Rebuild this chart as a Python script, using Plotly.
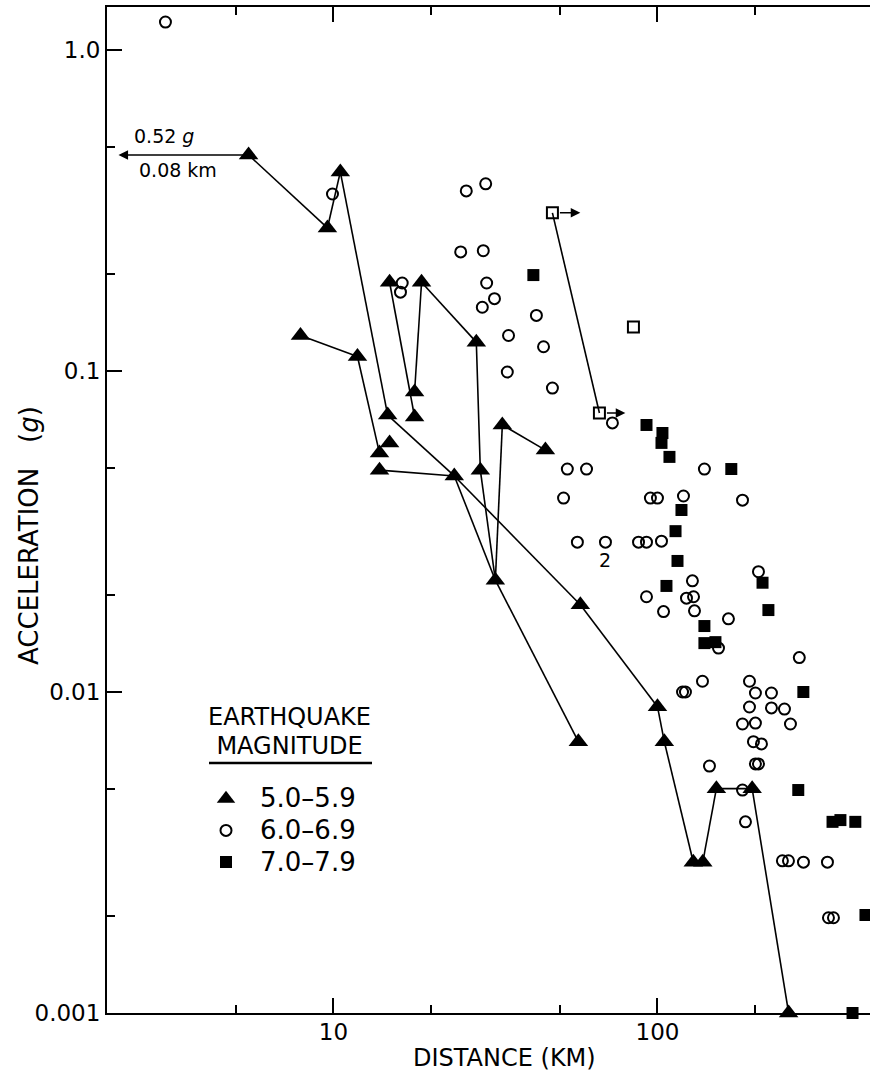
import numpy as np
import plotly.graph_objects as go

# ---------------- data (distance km, acceleration g) ----------------
# Magnitude 5.0-5.9 : filled triangles
tri_dist = [5.47, 9.58, 10.5, 7.91, 11.86, 14.9, 18.7, 14.7, 13.87, 14.9,
            13.87, 17.8, 17.8, 23.6, 27.6, 28.4, 31.6, 33.2, 45.1, 57.8,
            100, 105, 129, 138, 152, 196, 254, 57.0]
tri_acc = [0.471, 0.279, 0.417, 0.129, 0.111, 0.189, 0.189, 0.0729, 0.0555, 0.0597,
           0.0491, 0.086, 0.0719, 0.0471, 0.123, 0.0491, 0.0223, 0.0679, 0.0567, 0.0187,
           0.0090, 0.0070, 0.00295, 0.00295, 0.0050, 0.0050, 0.0010, 0.0070]
# records of the same event joined by lines (index pairs into the triangle lists)
tri_links = [(0, 1), (1, 2), (2, 7), (3, 4), (4, 8), (5, 12), (6, 11), (6, 14),
             (14, 15), (15, 16), (17, 16), (17, 18), (7, 13), (10, 13), (13, 16),
             (13, 19), (19, 20), (20, 21), (21, 22), (23, 24), (24, 25), (25, 26),
             (16, 27)]

# Magnitude 6.0-6.9 : open circles
circ_dist = [3.03, 9.93, 16.3, 16.1, 25.7, 29.5, 24.7, 29.0, 29.7, 31.4,
             28.8, 42.3, 34.7, 44.5, 34.4, 47.4, 72.6, 52.7, 60.4, 139.6,
             51.3, 95.1, 100, 120.3, 183, 56.6, 69.1, 87.4, 92.5, 102.9,
             205, 128.2, 92.5, 122.9, 129.2, 104.4, 130.1, 165.6, 154.3, 274,
             137.7, 119.5, 122, 192.3, 200.6, 224.8, 192.3, 224.8, 246.6, 183,
             200.6, 257.3, 197.8, 209.4, 200.6, 205, 144.7, 183, 186.9, 243,
             253.7, 282.2, 334.7, 337.1, 349.3]
circ_acc = [1.222, 0.356, 0.188, 0.176, 0.364, 0.383, 0.235, 0.237, 0.188, 0.168,
            0.158, 0.149, 0.129, 0.119, 0.0993, 0.0885, 0.0689, 0.0495, 0.0495, 0.0495,
            0.0402, 0.0402, 0.0402, 0.0408, 0.0396, 0.0293, 0.0293, 0.0293, 0.0293, 0.0295,
            0.0237, 0.0222, 0.0198, 0.0196, 0.0198, 0.0178, 0.0179, 0.0169, 0.0137, 0.0128,
            0.0108, 0.0100, 0.0100, 0.0108, 0.00993, 0.00993, 0.00898, 0.00892, 0.00885, 0.00795,
            0.0080, 0.00795, 0.0070, 0.00689, 0.00597, 0.00597, 0.00588, 0.00495, 0.00394, 0.00298,
            0.00298, 0.00295, 0.00295, 0.00198, 0.00198]

# Magnitude 7.0-7.9 : filled squares
sq_dist = [41.4, 92.5, 103.6, 102.9, 108.9, 169, 118.6, 113.7, 115.3, 106.6,
           211, 220, 139.6, 139.6, 151, 282, 272, 347, 367, 408, 438.5, 400]
sq_acc = [0.199, 0.0679, 0.0641, 0.0597, 0.054, 0.0495, 0.0369, 0.0317, 0.0256, 0.0214,
          0.0219, 0.018, 0.01605, 0.0142, 0.0143, 0.01, 0.00495, 0.00394, 0.00399, 0.00394,
          0.00202, 0.001]

# open squares (distance is a lower bound, arrows point right)
osq_dist = [47.4, 66.2, 84.3]
osq_acc = [0.311, 0.074, 0.137]
osq_arrow_to = [57.8, 79.6]

# off-scale record
offscale_acc = 0.52
offscale_dist = 0.08

x_ticks = [10, 100]
x_minor = [5, 20, 50, 200]
y_ticks = [0.001, 0.01, 0.1, 1.0]
y_ticklabels = ["0.001", "0.01", "0.1", "1.0"]
y_minor = [0.002, 0.005, 0.02, 0.05, 0.2, 0.5]

FONT = "DejaVu Sans"
L = np.log10

# plot-area geometry (pixels)
PL, PR, PT, PB = 107, 870, 7, 1013
W, H = 870, 1075


def px(xp):
    return (xp - PL) / (PR - PL)


def py(yp):
    return (PB - yp) / (PB - PT)


fig = go.Figure()

lx, ly = [], []
for a, b in tri_links:
    lx += [tri_dist[a], tri_dist[b], None]
    ly += [tri_acc[a], tri_acc[b], None]
fig.add_trace(go.Scatter(x=lx, y=ly, mode="lines", line=dict(color="black", width=1.6),
                         showlegend=False, hoverinfo="skip"))
fig.add_trace(go.Scatter(x=osq_dist[:2], y=osq_acc[:2], mode="lines",
                         line=dict(color="black", width=1.6), showlegend=False, hoverinfo="skip"))

big = "<span style='font-size:26px'>%s</span>"
head = "<span style='font-size:24px'>%s</span>"
fig.add_trace(go.Scatter(x=tri_dist, y=tri_acc, mode="markers", name=big % "5.0\u20135.9",
                         marker=dict(symbol="triangle-up", size=17, color="black"),
                         cliponaxis=False))
fig.add_trace(go.Scatter(x=circ_dist, y=circ_acc, mode="markers", name=big % "6.0\u20136.9",
                         marker=dict(symbol="circle-open", size=11, color="black",
                                     line=dict(width=2, color="black")),
                         cliponaxis=False))
fig.add_trace(go.Scatter(x=sq_dist, y=sq_acc, mode="markers", name=big % "7.0\u20137.9",
                         marker=dict(symbol="square", size=12, color="black"),
                         cliponaxis=False))
fig.add_trace(go.Scatter(x=osq_dist, y=osq_acc, mode="markers", showlegend=False,
                         marker=dict(symbol="square-open", size=11, color="black",
                                     line=dict(width=2, color="black")),
                         cliponaxis=False))

annotations = []
# arrows to the right from open squares
for i, xe in enumerate(osq_arrow_to):
    annotations.append(dict(x=L(xe), y=L(osq_acc[i]), ax=L(osq_dist[i]), ay=L(osq_acc[i]),
                            xref="x", yref="y", axref="x", ayref="y", text="",
                            showarrow=True, arrowhead=2, arrowsize=1.2, arrowwidth=1.6,
                            startstandoff=6, standoff=0, arrowcolor="black"))
# off-scale arrow
annotations.append(dict(x=L(2.17), y=L(tri_acc[0]), ax=L(tri_dist[0]), ay=L(tri_acc[0]),
                        xref="x", yref="y", axref="x", ayref="y", text="",
                        showarrow=True, arrowhead=2, arrowsize=1.2, arrowwidth=1.6,
                        standoff=0, arrowcolor="black"))
annotations.append(dict(x=L(2.99), y=L(0.54), xref="x", yref="y", showarrow=False,
                        xanchor="center", yanchor="middle",
                        text=f"{offscale_acc} <i>g</i>", font=dict(family=FONT, size=19, color="black")))
annotations.append(dict(x=L(3.32), y=L(0.4227), xref="x", yref="y", showarrow=False,
                        xanchor="center", yanchor="middle",
                        text=f"{offscale_dist} km", font=dict(family=FONT, size=19, color="black")))
annotations.append(dict(x=L(69.1), y=L(0.0258), xref="x", yref="y", showarrow=False,
                        xanchor="center", yanchor="middle",
                        text="2", font=dict(family=FONT, size=19, color="black")))
# axis titles
annotations.append(dict(x=px(29), y=py(536), xref="paper", yref="paper",
                        xanchor="center", yanchor="middle",
                        showarrow=False, textangle=-90,
                        text="ACCELERATION&nbsp;&nbsp;&nbsp;(<i>g</i>)",
                        font=dict(family=FONT, size=26, color="black")))
annotations.append(dict(x=px(505), y=py(1058), xref="paper", yref="paper",
                        xanchor="center", yanchor="middle",
                        showarrow=False, text="DISTANCE (KM)",
                        font=dict(family=FONT, size=24, color="black")))
# legend heading
annotations.append(dict(x=px(289), y=py(731), xref="paper", yref="paper",
                        xanchor="center", yanchor="middle", align="center",
                        showarrow=False, text=head % "EARTHQUAKE" + "<br>" + head % "MAGNITUDE",
                        font=dict(family=FONT, size=22, color="black")))

axis_common = dict(showline=True, linecolor="black", linewidth=2, ticks="inside",
                   ticklen=15, tickwidth=2, tickcolor="black", showgrid=False, zeroline=False,
                   tickfont=dict(family=FONT, size=23, color="black"))

fig.update_layout(
    width=W, height=H,
    margin=dict(l=PL, r=W - PR, t=PT, b=H - PB),
    paper_bgcolor="white", plot_bgcolor="white",
    xaxis=dict(type="log", range=[L(2), L(2) + (PR - PL) / 324], tickvals=x_ticks,
               ticktext=[str(v) for v in x_ticks], mirror="ticks", ticklabelstandoff=-3,
               minor=dict(tickvals=x_minor, ticks="inside", ticklen=8, tickwidth=2,
                          tickcolor="black", showgrid=False),
               **axis_common),
    yaxis=dict(type="log", range=[-3, -3 + (PB - PT) / 321], tickvals=y_ticks,
               ticktext=y_ticklabels, ticklabelstandoff=0,
               minor=dict(tickvals=y_minor, ticks="inside", ticklen=8, tickwidth=2,
                          tickcolor="black", showgrid=False),
               **axis_common),
    legend=dict(x=px(192), y=py(778), xanchor="left", yanchor="top",
                bgcolor="rgba(0,0,0,0)", itemwidth=58, tracegroupgap=0,
                font=dict(family=FONT, size=22, color="black")),
    shapes=[dict(type="line", xref="paper", yref="paper", x0=px(209), x1=px(372),
                 y0=py(763), y1=py(763), line=dict(color="black", width=2.5))],
    annotations=annotations,
    hovermode=False,
)

fig.write_html("out.html", config={"displayModeBar": False},
               post_script="document.body.style.margin='0';document.body.style.padding='0';"
                           "document.documentElement.style.overflow='hidden';")
